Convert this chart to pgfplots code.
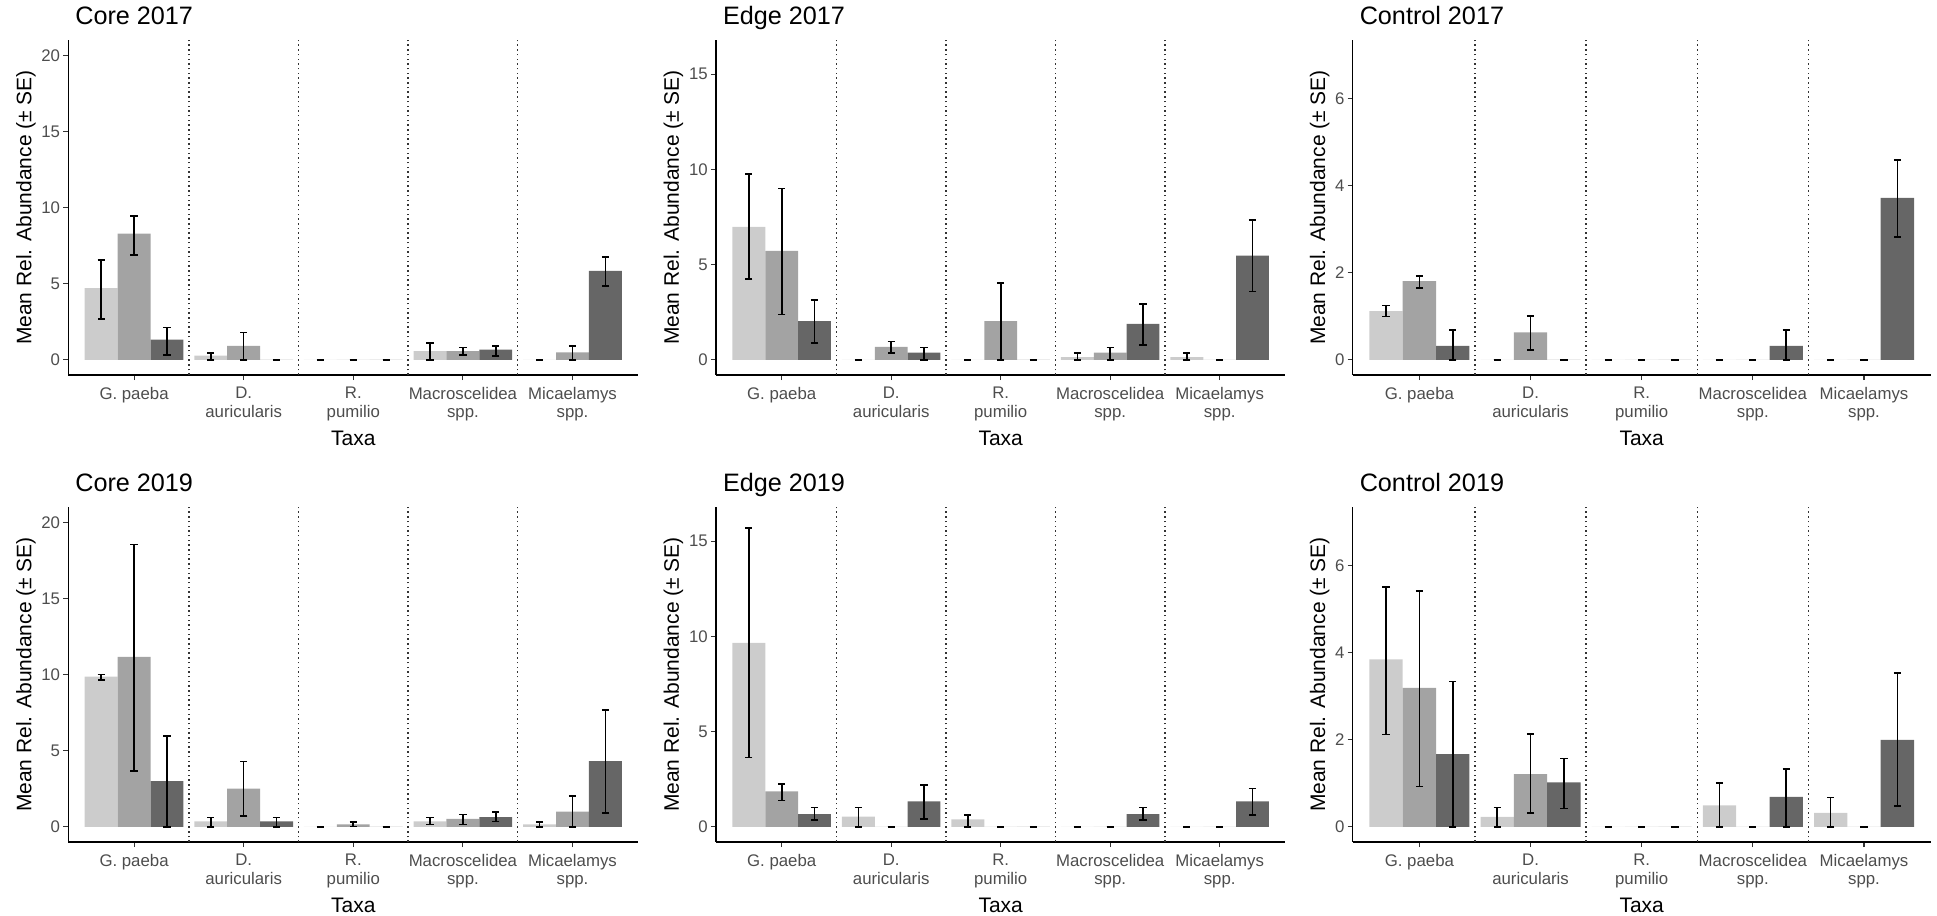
\documentclass[border=0pt]{standalone}
\usepackage{pgfplots}
\pgfplotsset{compat=1.18}
\usepackage{pgfplotstable}
\usepackage{fontspec}
\setmainfont{Liberation Sans}

\definecolor{lightg}{RGB}{204,204,204}
\definecolor{midg}{RGB}{163,163,163}
\definecolor{darkg}{RGB}{102,102,102}
\definecolor{tickgrey}{RGB}{77,77,77}
\definecolor{sepgrey}{RGB}{51,51,51}

% columns: taxon index, then mean / lower / upper for the three groups
\pgfplotstableread{
x l    llo  lhi  m     mlo  mhi   d    dlo  dhi
1 4.70 2.67 6.54 8.28  6.89 9.44  1.33 0.33 2.12
2 0.28 0.00 0.44 0.92  0.00 1.79  0    0    0
3 0    0    0    0     0    0     0    0    0
4 0.57 0.00 1.11 0.57  0.31 0.81  0.66 0.26 0.90
5 0    0    0    0.48  0.00 0.92  5.84 4.85 6.75
}\coreA
\pgfplotstableread{
x l    llo  lhi  m     mlo  mhi   d    dlo  dhi
1 6.98 4.23 9.76 5.72  2.38 9.00  2.03 0.87 3.13
2 0    0    0    0.68  0.35 0.96  0.38 0.00 0.65
3 0    0    0    2.03  0.00 4.02  0    0    0
4 0.14 0.00 0.37 0.38  0.00 0.65  1.89 0.79 2.92
5 0.14 0.00 0.37 0     0    0     5.47 3.58 7.34
}\edgeA
\pgfplotstableread{
x l    llo  lhi  m     mlo  mhi   d    dlo  dhi
1 1.12 0.99 1.25 1.81  1.65 1.93  0.32 0.00 0.68
2 0    0    0    0.63  0.22 1.01  0    0    0
3 0    0    0    0     0    0     0    0    0
4 0    0    0    0     0    0     0.32 0.00 0.68
5 0    0    0    0     0    0     3.72 2.82 4.59
}\ctrlA
\pgfplotstableread{
x l    llo  lhi   m     mlo  mhi   d    dlo  dhi
1 9.86 9.64 10.01 11.15 3.65 18.54 2.99 0.00 5.97
2 0.35 0.00 0.61  2.51  0.72 4.28  0.35 0.00 0.61
3 0    0    0     0.15  0.03 0.33  0    0    0
4 0.35 0.15 0.61  0.52  0.15 0.81  0.63 0.35 0.98
5 0.15 0.00 0.33  1.00  0.00 2.03  4.31 0.92 7.67
}\coreB
\pgfplotstableread{
x l    llo  lhi   m     mlo  mhi   d    dlo  dhi
1 9.66 3.64 15.70 1.86  1.37 2.24  0.67 0.35 1.02
2 0.53 0.00 1.02  0     0    0     1.33 0.40 2.21
3 0.39 0.00 0.63  0     0    0     0    0    0
4 0    0    0     0     0    0     0.67 0.35 1.02
5 0    0    0     0     0    0     1.33 0.63 2.01
}\edgeB
\pgfplotstableread{
x l    llo  lhi   m     mlo  mhi   d    dlo  dhi
1 3.85 2.12 5.51  3.19  0.93 5.42  1.67 0.00 3.34
2 0.23 0.00 0.44  1.21  0.31 2.13  1.02 0.42 1.57
3 0    0    0     0     0    0     0    0    0
4 0.49 0.00 1.00  0     0    0     0.69 0.00 1.33
5 0.32 0.00 0.67  0     0    0     2.00 0.48 3.54
}\ctrlB

\pgfplotsset{
  panel/.style={
    scale only axis, anchor=south west,
    height=167.5pt,
    xmin=0.4, xmax=5.6,
    axis x line*=bottom, axis y line*=left,
    axis line style={black, line width=0.55pt},
    tick align=outside, major tick length=2.6pt,
    tick style={color=sepgrey, line width=0.55pt},
    xtick={1,2,3,4,5},
    xticklabels={G. paeba, {D.\\auricularis}, {R.\\pumilio}, {Macroscelidea\\spp.}, {Micaelamys\\spp.}},
    xticklabel style={align=center, font=\fontsize{8.4}{9.2}\selectfont, text=tickgrey},
    yticklabel style={font=\fontsize{8.4}{9.2}\selectfont, text=tickgrey},
    yticklabel shift=-2pt,
    /pgf/number format/assume math mode=true,
    extra x ticks={1.5,2.5,3.5,4.5},
    extra x tick labels={},
    extra x tick style={major tick length=0pt, grid=major,
      major grid style={sepgrey, line width=0.75pt, dash pattern=on 0.75pt off 1.6pt}},
    xlabel={Taxa},
    ylabel={Mean Rel. Abundance (± SE)},
    ylabel shift=-4pt,
    label style={font=\fontsize{10.5}{12}\selectfont, text=black},
    x label style={at={(axis description cs:0.5,0)}, anchor=center, yshift=-31.5pt},
    title style={at={(axis description cs:0,1)}, anchor=base west, yshift=1.5pt,
      font=\fontsize{12.6}{14}\selectfont},
  },
  grp/.style={ybar, bar width=0.3, bar shift=0pt, draw=none, fill=#1,
    error bars/.cd, y dir=both, y explicit,
    error bar style={black, line width=0.8pt},
    error mark options={rotate=90, mark size=1.8pt, black, line width=0.8pt}},
}

% one panel: x, y, width, table, title, ymin, ymax, y ticks
\newcommand{\panel}[8]{%
  \begin{axis}[panel, at={(#1,#2)}, width=#3, title={#5},
      ymin=#6, ymax=#7, ytick={#8}]
    \addplot[grp=lightg] table[x expr=\thisrow{x}-0.3, y=l,
      y error plus expr=\thisrow{lhi}-\thisrow{l},
      y error minus expr=\thisrow{l}-\thisrow{llo}] {#4};
    \addplot[grp=midg] table[x=x, y=m,
      y error plus expr=\thisrow{mhi}-\thisrow{m},
      y error minus expr=\thisrow{m}-\thisrow{mlo}] {#4};
    \addplot[grp=darkg] table[x expr=\thisrow{x}+0.3, y=d,
      y error plus expr=\thisrow{dhi}-\thisrow{d},
      y error minus expr=\thisrow{d}-\thisrow{dlo}] {#4};
  \end{axis}%
}

\begin{document}
\begin{tikzpicture}
  \useasboundingbox (0,0) rectangle (968.5pt,457.5pt);
  \panel{34.15pt}{270pt}{285pt}{\coreA}{Core 2017}{-1}{21}{0,5,10,15,20}
  \panel{358pt}{270pt}{284.7pt}{\edgeA}{Edge 2017}{-0.8}{16.8}{0,5,10,15}
  \panel{676.35pt}{270pt}{289pt}{\ctrlA}{Control 2017}{-0.35}{7.35}{0,2,4,6}
  \panel{34.15pt}{36.5pt}{285pt}{\coreB}{Core 2019}{-1}{21}{0,5,10,15,20}
  \panel{358pt}{36.5pt}{284.7pt}{\edgeB}{Edge 2019}{-0.8}{16.8}{0,5,10,15}
  \panel{676.35pt}{36.5pt}{289pt}{\ctrlB}{Control 2019}{-0.35}{7.35}{0,2,4,6}
\end{tikzpicture}
\end{document}
